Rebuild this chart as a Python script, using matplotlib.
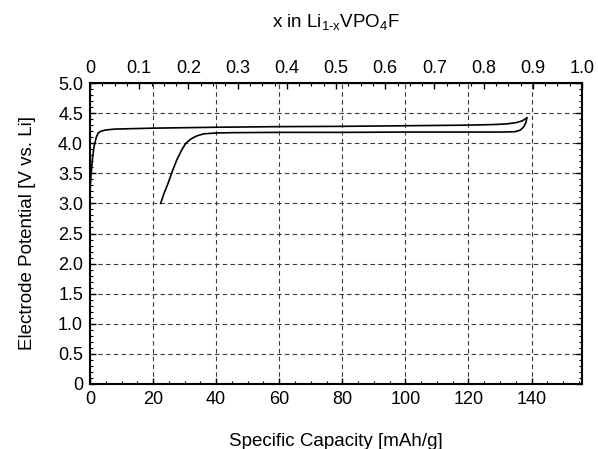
import numpy as np
import matplotlib
matplotlib.use('Agg')
import matplotlib.pyplot as plt
from matplotlib.ticker import MultipleLocator, FuncFormatter

plt.rcParams['font.family'] = ['Liberation Sans', 'DejaVu Sans']
plt.rcParams['mathtext.fontset'] = 'custom'
plt.rcParams['mathtext.rm'] = 'Liberation Sans'
plt.rcParams['mathtext.it'] = 'Liberation Sans'

# charge curve (capacity mAh/g, potential V)
charge_cap = [0.0, 0.3, 0.8, 1.3, 2.0, 2.6, 3.5, 5, 8, 12, 20, 40, 60, 80, 100, 120, 128, 132, 135, 137, 138.5]
charge_v = [3.2, 3.45, 3.75, 3.95, 4.1, 4.17, 4.2, 4.22, 4.235, 4.24, 4.25, 4.265, 4.275, 4.28, 4.29, 4.30, 4.31, 4.32, 4.34, 4.37, 4.42]

# discharge curve
dis_cap = [138.5, 138.2, 137.5, 136.5, 135.5, 134.5, 130, 120, 100, 80, 60, 45, 40, 36, 33.8, 32, 30.4, 29, 27.5, 26, 24.8, 23.5, 22.4]
dis_v = [4.42, 4.34, 4.27, 4.22, 4.2, 4.19, 4.185, 4.185, 4.185, 4.18, 4.18, 4.175, 4.17, 4.155, 4.12, 4.07, 4.0, 3.88, 3.72, 3.52, 3.34, 3.17, 3.0]

theo_cap = 156.0

fig = plt.figure(figsize=(5.98, 4.49), dpi=100)
ax = fig.add_axes([90/598, 1-384/449, 492/598, 301/449])

ax.plot(charge_cap, charge_v, color='black', lw=1.2)
ax.plot(dis_cap, dis_v, color='black', lw=1.2)

ax.set_xlim(0, theo_cap)
ax.set_ylim(0, 5.0)
ax.xaxis.set_major_locator(MultipleLocator(20))
ax.xaxis.set_minor_locator(MultipleLocator(5))
ax.yaxis.set_major_locator(MultipleLocator(0.5))
ax.yaxis.set_minor_locator(MultipleLocator(0.1))
ax.set_xticks(np.arange(0, 141, 20))
ax.yaxis.set_major_formatter(FuncFormatter(lambda v, p: '0' if v == 0 else '%.1f' % v))
ax.grid(True, which='major', color='#3a3a3a', ls=(0, (4, 3)), lw=0.8)

ax.tick_params(which='both', direction='in', labelsize=13, right=True, pad=5)
ax.tick_params(which='major', length=4, width=1)
ax.tick_params(which='minor', length=2.5, width=0.8)
for s in ax.spines.values():
    s.set_linewidth(1.5)

ax.set_ylabel('Electrode Potential [V vs. Li]', fontsize=13.5, labelpad=16)
ax.set_xlabel('Specific Capacity [mAh/g]', fontsize=13.5, labelpad=18)

top = ax.secondary_xaxis('top', functions=(lambda c: c / theo_cap, lambda x: x * theo_cap))
top.set_xticks(np.arange(0, 1.01, 0.1))
top.xaxis.set_minor_locator(MultipleLocator(0.025))
top.xaxis.set_major_formatter(FuncFormatter(lambda v, p: '0' if abs(v) < 1e-9 else '%.1f' % v))
top.tick_params(which='both', direction='in', labelsize=13, pad=4)
top.tick_params(which='major', length=4, width=1)
top.tick_params(which='minor', length=2.5, width=0.8)
top.set_xlabel(r'x in Li$_{\text{1-x}}$VPO$_{\text{4}}$F', fontsize=13.5, labelpad=24)

fig.savefig('out.png', dpi=100)
